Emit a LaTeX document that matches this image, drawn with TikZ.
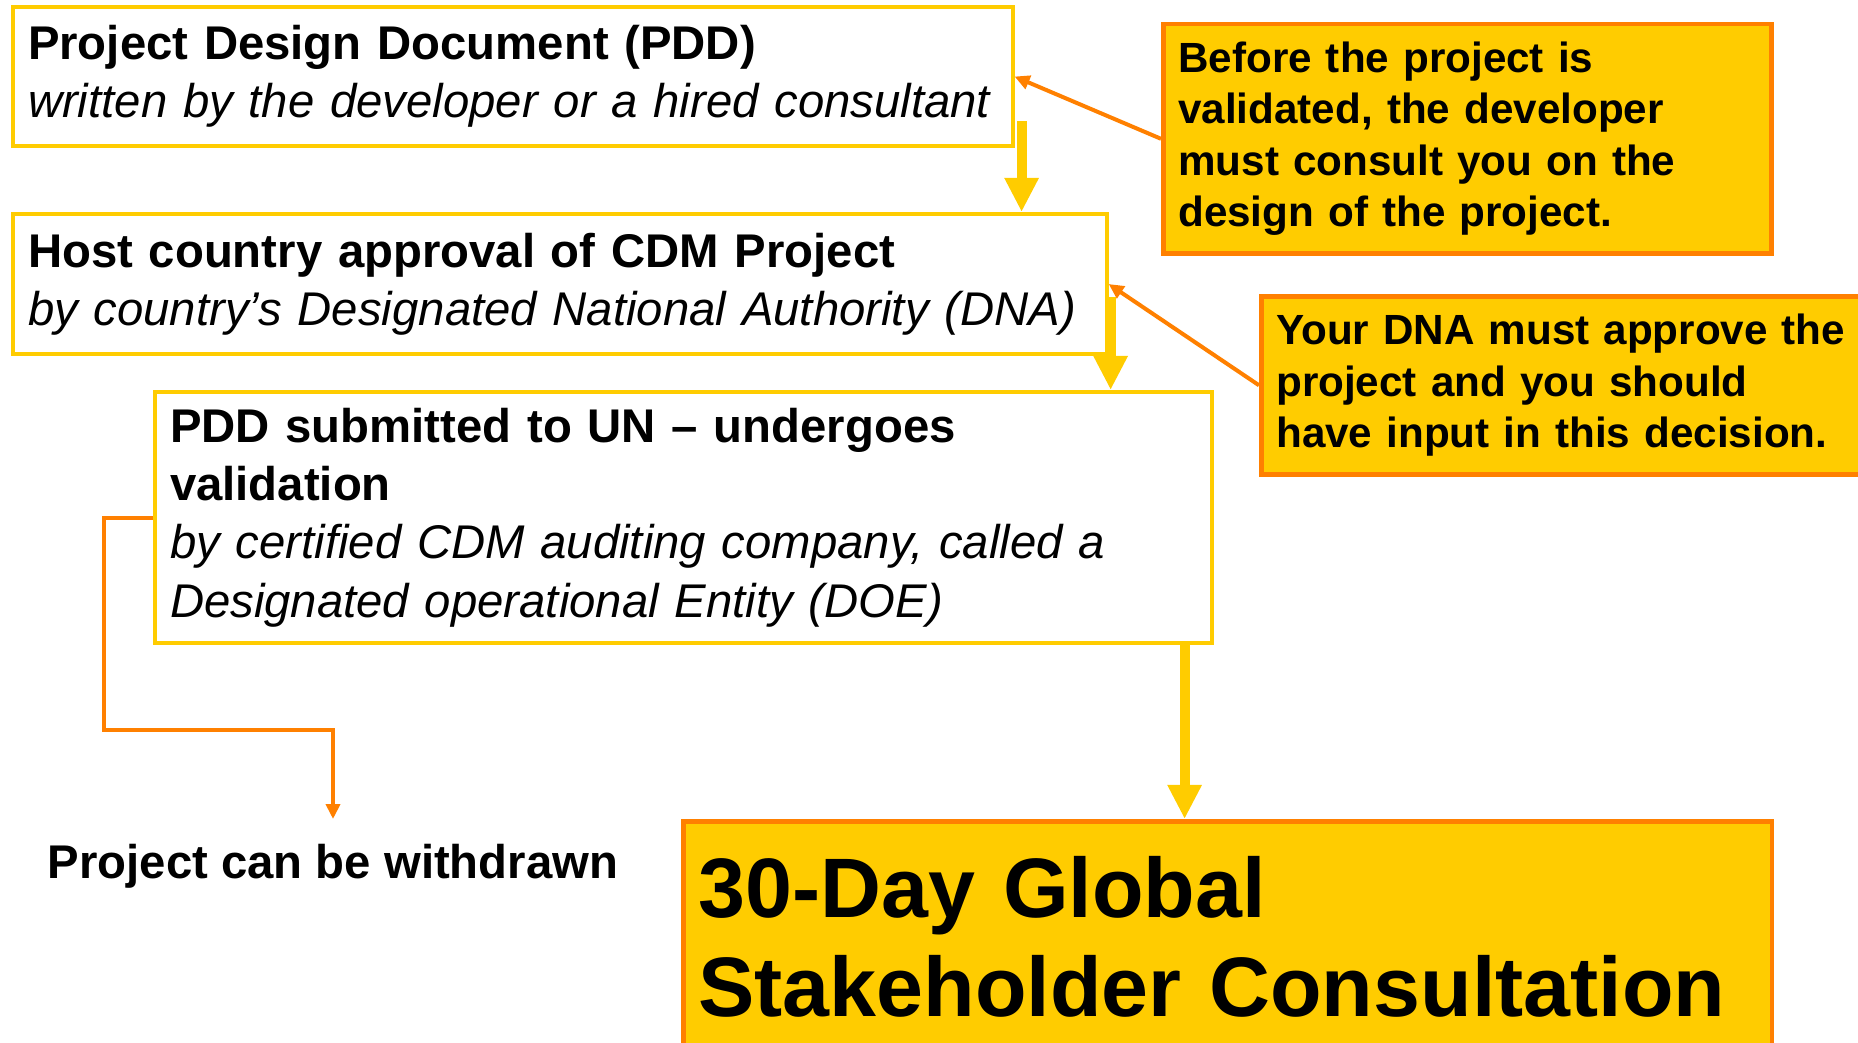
\documentclass[tikz,border=0pt]{standalone}
\usepackage{fontspec}
\setmainfont{Liberation Sans}
\usepackage{tikz}
\usetikzlibrary{positioning}
\usetikzlibrary{arrows.meta}
\definecolor{gold}{HTML}{FFCC00}
\definecolor{tangerine}{HTML}{FF8000}

\begin{document}
\begin{tikzpicture}[x=0.01cm, y=-0.01cm,
        every node/.style={align=left, inner xsep=0.15cm, inner ysep=0pt, anchor=north west},
        stepbox/.style={draw=gold, line width=0.04cm, fill=white, font=\fontsize{13.45}{16.6}\selectfont},
        notebox/.style={draw=tangerine, fill=gold, line width=0.045cm, font=\bfseries\fontsize{12}{14.6}\selectfont},
        flowarrow/.style={draw=gold, line width=0.1cm, -{Triangle[width=0.32cm,length=0.34cm]}},
        notearrow/.style={draw=tangerine, line width=0.04cm, -{Triangle[width=0.14cm,length=0.15cm]}}]
        \useasboundingbox (0,0) rectangle (1858,1043);

        % steps
        \node[stepbox, text width=9.69cm, minimum height=1.39cm] (pdd) at (11,5)
            {\textbf{Project Design Document (PDD)}\\\textit{written by the developer or a hired consultant}};
        \node[stepbox, text width=10.63cm, minimum height=1.40cm] (dna) at (11,212)
            {\textbf{Host country approval of CDM Project}\\\textit{by country’s Designated National Authority (DNA)}};
        \node[stepbox, text width=10.26cm, minimum height=2.51cm] (val) at (153,390)
            {\textbf{PDD submitted to UN – undergoes}\\\textbf{validation}\\
            \textit{by certified CDM auditing company, called a}\\\textit{Designated operational Entity (DOE)}};
        \node[notebox, font=\bfseries\fontsize{24}{28.4}\selectfont, text width=10.58cm,
            minimum height=2.31cm] (consult) at (681,819)
            {30-Day Global\\Stakeholder Consultation};
        \node[font=\bfseries\fontsize{13.45}{16.6}\selectfont, anchor=base, inner ysep=0.24cm]
            (withdrawn) at (333,878) {Project can be withdrawn};

        % notes
        \node[notebox, text width=5.78cm, minimum height=2.29cm] (notepdd) at (1161,22)
            {Before the project is\\validated, the developer\\must consult you on the\\design of the project.};
        \node[notebox, text width=6.1cm, minimum height=1.78cm] (notedna) at (1259,294)
            {Your DNA must approve the\\project and you should\\have input in this decision.};

        % flow
        \draw[flowarrow] ([xshift=0.07cm,yshift=0.27cm]pdd.south east)
            -- ([xshift=0.07cm]pdd.south east |- dna.north);
        \draw[flowarrow] ([xshift=0.02cm,yshift=0.59cm]dna.south east)
            -- ([xshift=0.02cm]dna.south east |- val.north);
        \draw[flowarrow] ([xshift=-0.29cm]val.south east)
            -- ([xshift=-0.29cm]val.south east |- consult.north);

        \draw[notearrow] (notepdd.west) -- (pdd.east);
        \draw[notearrow] (notedna.west) -- (dna.east);

        \coordinate (bend) at (104,730);
        \draw[notearrow] (val.west) -| (bend) -| (withdrawn.north);

    \end{tikzpicture}
\end{document}
